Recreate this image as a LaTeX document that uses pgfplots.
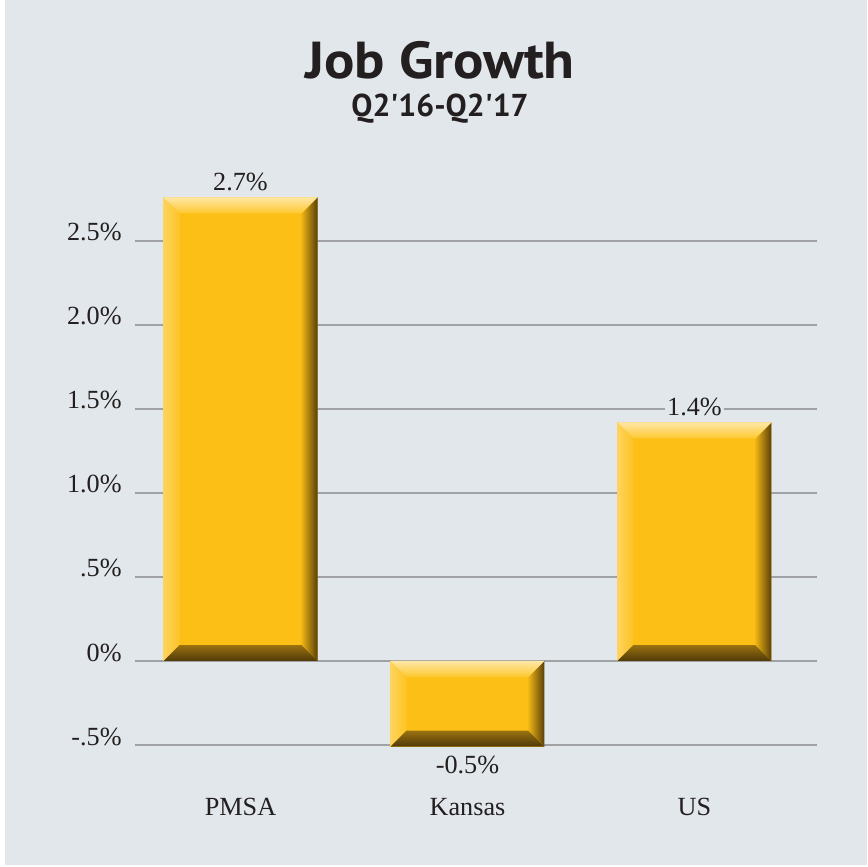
\documentclass[border=0pt]{standalone}
\usepackage{fontspec}
\setmainfont{Liberation Serif}
\newfontfamily\titlefont{PT Sans}
\newfontfamily\bigtitlefont{PT Sans}[FakeStretch=1.09]
\usepackage{pgfplots}
\pgfplotsset{compat=1.18}
\definecolor{panelbg}{HTML}{E2E7EB}
\definecolor{gridgray}{HTML}{A0A1A4}
\definecolor{txt}{HTML}{231F20}
\definecolor{barmain}{HTML}{FCBF15}
\definecolor{barleftA}{HTML}{FED35E}
\definecolor{barleftB}{HTML}{FCC324}
\definecolor{bartopA}{HTML}{FFE7A6}
\definecolor{bartopB}{HTML}{FDC82E}
\definecolor{barbotA}{HTML}{9A7211}
\definecolor{barbotM}{HTML}{563F0A}
\definecolor{barbotB}{HTML}{4E3908}
\definecolor{barrightA}{HTML}{EFB414}
\definecolor{barrightM}{HTML}{94700F}
\definecolor{barrightB}{HTML}{573F0A}
\pgfplotsset{
  bvleft/.style={draw=none, left color=barleftA, right color=barleftB},
  bvbot/.style={draw=none, top color=barbotA, middle color=barbotM, bottom color=barbotB},
  bvright/.style={draw=none, left color=barrightA, middle color=barrightM, right color=barrightB},
  bvtop/.style={draw=none, top color=bartopA, bottom color=bartopB},
}
\tikzset{barlabel/.style={text=txt, font=\fontsize{13.1}{15}\selectfont, fill=panelbg, inner xsep=1pt, inner ysep=3pt}}
\begin{document}
\begin{tikzpicture}
\fill[white] (0,0) rectangle (433.5pt,433.5pt);
\fill[panelbg] (2.5pt,1pt) rectangle (433.5pt,433.5pt);
\node[anchor=base, text=txt, inner sep=0pt, font=\bigtitlefont\bfseries\fontsize{26}{30}\selectfont] at (220pt,394.2pt) {Job Growth};
\node[anchor=base, text=txt, inner sep=0pt, font=\titlefont\bfseries\fontsize{15.8}{18}\selectfont] at (220pt,375pt) {Q2\textquotesingle16-Q2\textquotesingle17};
\begin{axis}[
  at={(67.5pt,61pt)}, anchor=south west,
  scale only axis, width=341pt, height=277.2pt,
  xmin=-0.465, xmax=2.54, ymin=-0.5, ymax=2.8,
  clip=false,
  axis line style={draw=none},
  tick style={draw=none},
  ymajorgrids, grid style={draw=gridgray, line width=1.3pt},
  xtick={0,1,2}, xticklabels={PMSA,Kansas,US},
  ytick={-0.5,0,0.5,1,1.5,2,2.5},
  yticklabels={-.5\%,0\%,.5\%,1.0\%,1.5\%,2.0\%,2.5\%},
  tick label style={text=txt, font=\fontsize{13.1}{15}\selectfont},
  yticklabel style={anchor=base east, inner sep=0pt, xshift=-6.5pt},
  xticklabel style={anchor=base, inner sep=0pt, yshift=-35pt},
]
% main bars (values; labels as shown on the chart)
\addplot[ybar, bar width=77pt, bar shift=0pt, fill=barmain, draw=none,
  point meta=explicit symbolic,
  nodes near coords={\pgfplotspointmeta\%},
  every node near coord/.append style={barlabel, anchor=south}]
  coordinates {(0,2.76) [2.7] (2,1.42) [1.4]};
\addplot[ybar, bar width=77pt, bar shift=0pt, fill=barmain, draw=none,
  point meta=explicit symbolic,
  nodes near coords={\pgfplotspointmeta\%},
  every node near coord/.append style={barlabel, anchor=north, yshift=-1.5pt}]
  coordinates {(1,-0.51) [-0.5]};
% bevel: PMSA
\addplot[bvleft]  coordinates {(-0.3392,2.76) (-0.2687,2.6648) (-0.2687,0.0952) (-0.3392,0)} -- cycle;
\addplot[bvbot]   coordinates {(-0.3392,0) (0.3392,0) (0.2687,0.0952) (-0.2687,0.0952)} -- cycle;
\addplot[bvright] coordinates {(0.3392,2.76) (0.3392,0) (0.2687,0.0952) (0.2687,2.6648)} -- cycle;
\addplot[bvtop]   coordinates {(-0.3392,2.76) (0.3392,2.76) (0.2687,2.6648) (-0.2687,2.6648)} -- cycle;
% bevel: Kansas
\addplot[bvleft]  coordinates {(0.6608,0) (0.7313,-0.0952) (0.7313,-0.4148) (0.6608,-0.51)} -- cycle;
\addplot[bvbot]   coordinates {(0.6608,-0.51) (1.3392,-0.51) (1.2687,-0.4148) (0.7313,-0.4148)} -- cycle;
\addplot[bvright] coordinates {(1.3392,0) (1.3392,-0.51) (1.2687,-0.4148) (1.2687,-0.0952)} -- cycle;
\addplot[bvtop]   coordinates {(0.6608,0) (1.3392,0) (1.2687,-0.0952) (0.7313,-0.0952)} -- cycle;
% bevel: US
\addplot[bvleft]  coordinates {(1.6608,1.42) (1.7313,1.3248) (1.7313,0.0952) (1.6608,0)} -- cycle;
\addplot[bvbot]   coordinates {(1.6608,0) (2.3392,0) (2.2687,0.0952) (1.7313,0.0952)} -- cycle;
\addplot[bvright] coordinates {(2.3392,1.42) (2.3392,0) (2.2687,0.0952) (2.2687,1.3248)} -- cycle;
\addplot[bvtop]   coordinates {(1.6608,1.42) (2.3392,1.42) (2.2687,1.3248) (1.7313,1.3248)} -- cycle;
\end{axis}
\end{tikzpicture}
\end{document}
